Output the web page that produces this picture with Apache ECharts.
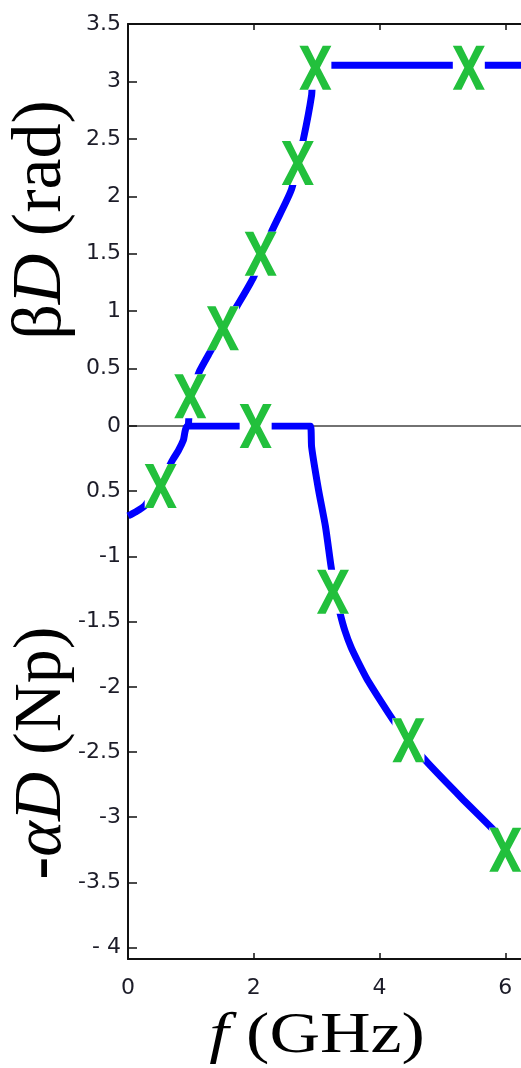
<!DOCTYPE html>
<html>
<head>
<meta charset="utf-8">
<script src="https://cdn.jsdelivr.net/npm/echarts@6/dist/echarts.min.js"></script>
<style>
  html, body { margin: 0; padding: 0; background: #fff; }
  #chart { width: 521px; height: 1068px; }
</style>
</head>
<body>
<div id="chart"></div>
<script>
// Phase constant βD (rad), theory curve
const betaFreq  = [0.96, 0.98, 1.02, 1.08, 1.14, 1.29, 1.50, 1.74, 2.00, 2.29, 2.60, 2.79, 2.92, 2.97, 6.30];
const betaPhase = [0, 0.16, 0.28, 0.39, 0.48, 0.63, 0.83, 1.05, 1.30, 1.70, 2.06, 2.50, 2.88, 3.1416, 3.1416];

// Attenuation -αD (Np), theory curve
const alphaFreq = [0, 0.12, 0.27, 0.50, 0.71, 0.80, 0.88, 0.95, 2.90, 2.92, 3.03, 3.14, 3.23, 3.30, 3.375, 3.45, 3.55, 3.66, 3.80, 4.02, 4.21, 4.46, 4.76, 5.30, 5.82, 6.00, 6.30];
const alphaAtt  = [-0.69, -0.66, -0.61, -0.45, -0.26, -0.19, -0.11, 0, 0, -0.16, -0.49, -0.77, -1.08, -1.28, -1.44, -1.57, -1.70, -1.81, -1.94, -2.11, -2.25, -2.41, -2.58, -2.85, -3.10, -3.20, -3.35];

// Simulated points (green crosses)
const simBetaFreq  = [0.99, 1.51, 2.11, 2.70, 2.98, 5.42];
const simBeta      = [0.26, 0.85, 1.50, 2.29, 3.12, 3.12];
const simAlphaFreq = [0.52, 2.03, 3.26, 4.46, 6.00];
const simAlpha     = [-0.46, 0, -1.27, -2.41, -3.25];

// Axis ticks and their labels
const freqTicks       = [0, 2, 4, 6];
const freqTickLabels  = ['0', '2', '4', '6'];
const betaTicks       = [0, 0.5, 1, 1.5, 2, 2.5, 3, 3.5];
const betaTickLabels  = ['0', '0.5', '1', '1.5', '2', '2.5', '3', '3.5'];
const alphaTicks      = [-0.5, -1, -1.5, -2, -2.5, -3, -3.5, -4];
const alphaTickLabels = ['0.5', '-1', '-1.5', '-2', '-2.5', '-3', '-3.5', '- 4'];

const zip = (xs, ys) => xs.map((x, i) => [x, ys[i]]);
const labelOf = (ticks, labels) => v => {
  const i = ticks.findIndex(t => Math.abs(t - v) < 1e-6);
  return i >= 0 ? labels[i] : '';
};

const BLUE = '#0000ff';
const GREEN = '#22c03c';
// bold "X" cross drawn in a 100x100 box
const CROSS = 'path://M0,0 L27,0 L50,34 L73,0 L100,0 L64,50 L100,100 L73,100 L50,66 L27,100 L0,100 L36,50 Z';
const CROSS_SIZE = [32, 44];

const tickFont = { fontFamily: 'DejaVu Sans', fontSize: 22, color: '#1c1c28' };
const frameLine = { onZero: false, lineStyle: { color: '#111', width: 2 } };
const tickLine = { color: '#111', width: 1.5 };

const chart = echarts.init(document.getElementById('chart'), null, { renderer: 'canvas' });

chart.setOption({
  animation: false,
  backgroundColor: '#fff',
  grid: [
    { left: 128, top: 24, width: 396, height: 402 },
    { left: 128, top: 426, width: 396, height: 533 }
  ],
  xAxis: [
    { // frame line along the top
      type: 'value', gridIndex: 0, position: 'top', min: 0, max: 6.25,
      axisLine: frameLine,
      axisTick: { inside: true, length: 6, customValues: freqTicks, lineStyle: tickLine },
      axisLabel: { show: false }, splitLine: { show: false }
    },
    { // zero line between the two panels
      type: 'value', gridIndex: 0, position: 'bottom', min: 0, max: 6.25,
      axisLine: { onZero: false, lineStyle: { color: '#444', width: 1.5 } },
      axisTick: { show: false }, axisLabel: { show: false }, splitLine: { show: false }
    },
    { // frequency axis
      type: 'value', gridIndex: 1, position: 'bottom', min: 0, max: 6.25,
      axisLine: frameLine,
      axisTick: { inside: true, length: 6, customValues: freqTicks, lineStyle: tickLine },
      axisLabel: Object.assign({ margin: 18, customValues: freqTicks,
        formatter: labelOf(freqTicks, freqTickLabels) }, tickFont),
      splitLine: { show: false }
    }
  ],
  yAxis: [
    {
      type: 'value', gridIndex: 0, min: 0, max: 3.5,
      axisLine: frameLine,
      axisTick: { inside: true, length: 9, customValues: betaTicks, lineStyle: tickLine },
      axisLabel: Object.assign({ margin: 7, customValues: betaTicks,
        formatter: labelOf(betaTicks, betaTickLabels) }, tickFont),
      splitLine: { show: false }
    },
    {
      type: 'value', gridIndex: 1, min: -4.087, max: 0,
      axisLine: frameLine,
      axisTick: { inside: true, length: 9, customValues: alphaTicks, lineStyle: tickLine },
      axisLabel: Object.assign({ margin: 7, customValues: alphaTicks,
        formatter: labelOf(alphaTicks, alphaTickLabels) }, tickFont),
      splitLine: { show: false }
    }
  ],
  series: [
    {
      name: 'βD theory', type: 'line', xAxisIndex: 0, yAxisIndex: 0,
      data: zip(betaFreq, betaPhase), showSymbol: false, smooth: 0.2,
      lineStyle: { color: BLUE, width: 7, cap: 'butt', join: 'round' }, z: 2
    },
    {
      name: '-αD theory', type: 'line', xAxisIndex: 2, yAxisIndex: 1,
      data: zip(alphaFreq, alphaAtt), showSymbol: false, smooth: 0.2,
      lineStyle: { color: BLUE, width: 7, cap: 'butt', join: 'round' }, z: 2
    },
    { // white backing behind each cross
      type: 'scatter', xAxisIndex: 0, yAxisIndex: 0, data: zip(simBetaFreq, simBeta),
      symbol: 'rect', symbolSize: CROSS_SIZE, itemStyle: { color: '#fff', opacity: 1 }, z: 3, silent: true
    },
    {
      type: 'scatter', xAxisIndex: 2, yAxisIndex: 1, data: zip(simAlphaFreq, simAlpha),
      symbol: 'rect', symbolSize: CROSS_SIZE, itemStyle: { color: '#fff', opacity: 1 }, z: 3, silent: true
    },
    {
      name: 'βD simulation', type: 'scatter', xAxisIndex: 0, yAxisIndex: 0, data: zip(simBetaFreq, simBeta),
      symbol: CROSS, symbolSize: CROSS_SIZE, itemStyle: { color: GREEN, opacity: 1 }, z: 4
    },
    {
      name: '-αD simulation', type: 'scatter', xAxisIndex: 2, yAxisIndex: 1, data: zip(simAlphaFreq, simAlpha),
      symbol: CROSS, symbolSize: CROSS_SIZE, itemStyle: { color: GREEN, opacity: 1 }, z: 4
    }
  ],
  graphic: [
    {
      type: 'text', x: 42, y: 220, rotation: Math.PI / 2,
      style: {
        text: '{r|β}{i|D}{r| (rad)}',
        align: 'center', verticalAlign: 'middle',
        rich: {
          r: { fontFamily: 'Liberation Serif', fontSize: 70, fill: '#000' },
          i: { fontFamily: 'Liberation Serif', fontStyle: 'italic', fontSize: 70, fill: '#000' }
        }
      }
    },
    {
      type: 'text', x: 42, y: 753, rotation: Math.PI / 2,
      style: {
        text: '{b|-}{i|αD}{r| (Np)}',
        align: 'center', verticalAlign: 'middle',
        rich: {
          b: { fontFamily: 'Liberation Serif', fontWeight: 'bold', fontSize: 68, fill: '#000' },
          r: { fontFamily: 'Liberation Serif', fontSize: 68, fill: '#000' },
          i: { fontFamily: 'Liberation Serif', fontStyle: 'italic', fontSize: 68, fill: '#000' }
        }
      }
    },
    {
      type: 'text', x: 317, y: 1037, scaleX: 1.25,
      style: {
        text: '{i|f }{r|(GHz)}',
        align: 'center', verticalAlign: 'middle',
        rich: {
          r: { fontFamily: 'Liberation Serif', fontSize: 56, fill: '#000' },
          i: { fontFamily: 'Liberation Serif', fontStyle: 'italic', fontSize: 56, fill: '#000' }
        }
      }
    }
  ]
});
</script>
</body>
</html>
